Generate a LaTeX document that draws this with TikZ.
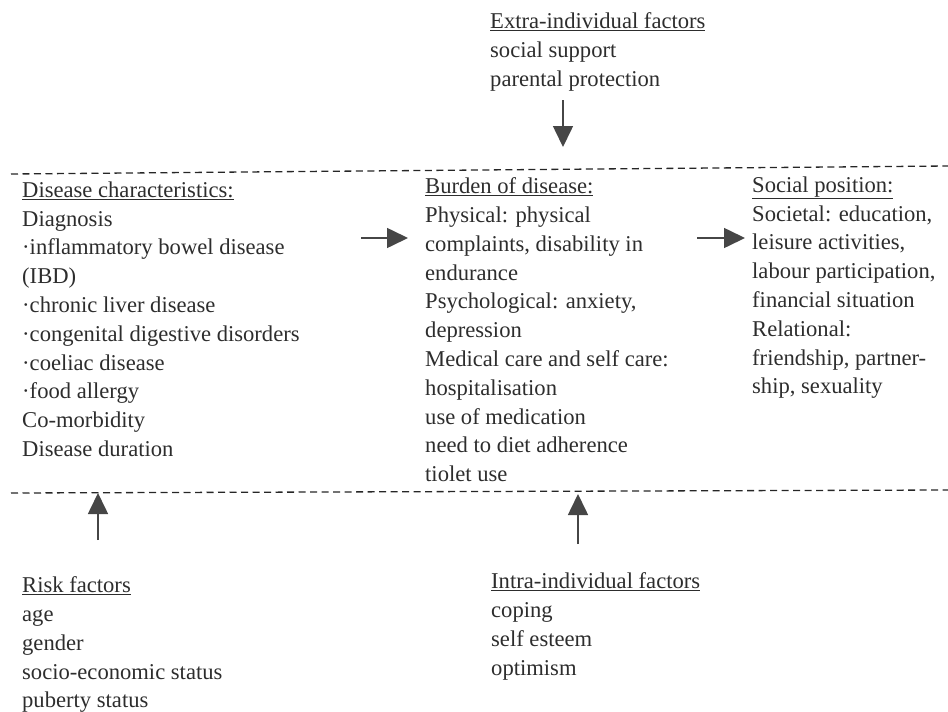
\documentclass[tikz,border=0pt]{standalone}
\usepackage{fontspec}
\setmainfont{Liberation Serif}
\usepackage{tikz}
\usetikzlibrary{arrows.meta,positioning}
\definecolor{inkgray}{RGB}{45,45,45}
\definecolor{arrowgray}{RGB}{70,70,70}

\begin{document}
\begin{tikzpicture}[
  x=1pt,y=-1pt,
  blk/.style={
    anchor=north west,
    inner sep=0pt,
    align=left,
    text=inkgray,
    font=\fontsize{22.6}{28.8}\selectfont
  },
  arw/.style={
    draw=arrowgray,
    line width=1.6pt,
    -{Triangle[length=21pt,width=20pt]}
  },
  dsh/.style={
    draw=black!85,
    line width=1.3pt,
    dash pattern=on 7pt off 4.5pt
  }
]
\useasboundingbox (0,0) rectangle (948,712);

\node[blk] (extra) at (490,12.5) {\underline{Extra-individual factors}\\social support\\parental protection};
\node[blk] (diseasechar) at (22,181.5) {\underline{Disease characteristics:}\\Diagnosis\\·inflammatory bowel disease\\(IBD)\\·chronic liver disease\\·congenital digestive disorders\\·coeliac disease\\·food allergy\\Co-morbidity\\Disease duration};
\node[blk] (burden) at (425,177.5) {\underline{Burden of disease:}\\Physical: physical\\complaints, disability in\\endurance\\Psychological: anxiety,\\depression\\Medical care and self care:\\hospitalisation\\use of medication\\need to diet adherence\\tiolet use};
\node[blk] (socialpos) at (752,176.5) {\underline{Social position:}\\Societal: education,\\leisure activities,\\labour participation,\\financial situation\\Relational:\\friendship, partner-\\ship, sexuality};
\node[blk] (risk) at (22,576.5) {\underline{Risk factors}\\age\\gender\\socio-economic status\\puberty status};
\node[blk] (intra) at (491,572.5) {\underline{Intra-individual factors}\\coping\\self esteem\\optimism};

\coordinate (topL) at (11,174);
\coordinate (topR) at (948,166);
\coordinate (botL) at (11,493);
\coordinate (botR) at (948,490);
\draw[dsh] (topL) -- (topR);
\draw[dsh] (botL) -- (botR);

\coordinate (extraS) at (563,100);
\coordinate (extraE) at (563,147);
\coordinate (diseaseS) at (361,238);
\coordinate (diseaseE) at (408,238);
\coordinate (burdenS) at (697,238);
\coordinate (burdenE) at (745,238);
\coordinate (riskS) at (98,540);
\coordinate (riskE) at (98,493);
\coordinate (intraS) at (578,544);
\coordinate (intraE) at (578,494);

\draw[arw] (extraS) -- (extraE);
\draw[arw] (diseaseS) -- (diseaseE);
\draw[arw] (burdenS) -- (burdenE);
\draw[arw] (riskS) -- (riskE);
\draw[arw] (intraS) -- (intraE);
\end{tikzpicture}
\end{document}
